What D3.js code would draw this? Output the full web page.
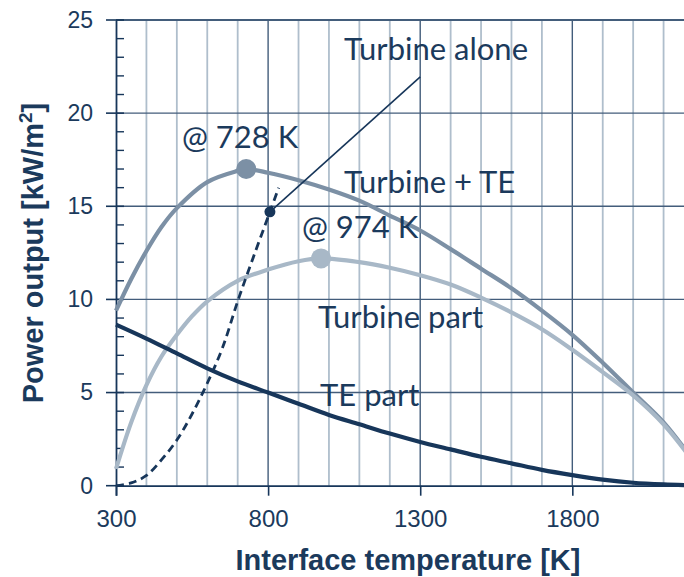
<!DOCTYPE html>
<html>
<head>
<meta charset="utf-8">
<script src="https://cdn.jsdelivr.net/npm/d3@7"></script>
<style>
  html, body { margin: 0; padding: 0; background: #ffffff; }
  svg { display: block; }
</style>
</head>
<body>
<svg id="chart" width="684" height="577"></svg>
<script>
// Power output vs. interface temperature
const temps = [300, 350, 400, 450, 500, 600, 700, 728, 800, 900, 1000, 1100, 1200, 1300, 1400, 1500, 1600, 1700, 1800, 1900, 2000, 2100, 2200];
const turbinePlusTE = [9.4, 11.1, 12.6, 13.9, 14.9, 16.3, 16.9, 17.0, 16.8, 16.4, 15.9, 15.3, 14.5, 13.7, 12.7, 11.65, 10.6, 9.4, 8.1, 6.6, 5.0, 3.4, 1.3];

const turbinePartT = [300, 350, 400, 450, 500, 550, 600, 700, 800, 900, 974, 1100, 1200, 1300, 1400, 1500, 1600, 1700, 1800, 1900, 2000, 2100, 2200];
const turbinePart = [0.9, 3.4, 5.4, 6.95, 8.1, 9.1, 9.9, 11.0, 11.6, 12.05, 12.2, 12.0, 11.7, 11.3, 10.8, 10.1, 9.3, 8.4, 7.3, 6.1, 4.85, 3.3, 1.25];

const tePartT = [300, 400, 500, 600, 700, 800, 900, 1000, 1100, 1200, 1300, 1400, 1500, 1600, 1700, 1800, 1900, 2000, 2100, 2200];
const tePart = [8.65, 7.9, 7.1, 6.3, 5.6, 5.0, 4.4, 3.8, 3.3, 2.8, 2.35, 1.95, 1.55, 1.2, 0.85, 0.57, 0.33, 0.16, 0.07, 0.02];

const turbineAloneT = [300, 350, 400, 450, 500, 550, 600, 650, 700, 750, 806, 835];
const turbineAlone = [0, 0.15, 0.55, 1.4, 2.45, 3.85, 5.5, 7.4, 9.9, 12.2, 14.7, 16.0];

// optimum points and the "Turbine alone" callout
const optimumT = [728, 974];
const optimumP = [17.0, 12.2];
const optimumLabels = ["@ 728 K", "@ 974 K"];
const aloneMarker = [806, 14.7];
const aloneLeaderEnd = [1300, 21.95];

const xTicks = [300, 800, 1300, 1800];
const yTicks = [0, 5, 10, 15, 20, 25];

const navy = "#17365a";
const textColor = "#1b3a5c";
const midBlue = "#7c90a5";
const lightBlue = "#a8b8c7";
const gridMajor = "#435d7b";
const gridMinor = "#afbecc";

const svg = d3.select("#chart");

const x = d3.scaleLinear().domain([300, 2200]).range([116, 694]);
const y = d3.scaleLinear().domain([0, 25]).range([485.7, 20]);

// grid
const grid = svg.append("g");
const minorX = d3.range(400, 2201, 100).filter(t => !xTicks.includes(t));
grid.selectAll(".vminor").data(minorX).enter().append("line")
  .attr("x1", d => x(d)).attr("x2", d => x(d))
  .attr("y1", y(25)).attr("y2", y(0))
  .attr("stroke", gridMinor).attr("stroke-width", 1.8);
grid.selectAll(".vmajor").data(xTicks.slice(1)).enter().append("line")
  .attr("x1", d => x(d)).attr("x2", d => x(d))
  .attr("y1", y(25)).attr("y2", y(0))
  .attr("stroke", gridMajor).attr("stroke-width", 1.4);
grid.selectAll(".hmajor").data(yTicks.slice(1)).enter().append("line")
  .attr("x1", x(300)).attr("x2", 684)
  .attr("y1", d => y(d)).attr("y2", d => y(d))
  .attr("stroke", gridMajor).attr("stroke-width", d => d === 25 ? 1.8 : 1.4);

// y axis: major ticks cross the axis, minor ticks sit inside
const yAxis = svg.append("g").attr("transform", `translate(${x(300)},0)`)
  .call(d3.axisLeft(y).tickValues(yTicks).tickSize(0).tickPadding(23).tickFormat(d3.format("d")));
yAxis.select(".domain").attr("stroke", navy).attr("stroke-width", 1.8);
yAxis.selectAll(".tick text")
  .attr("fill", textColor).attr("font-family", "Liberation Sans, Arial, sans-serif")
  .attr("font-size", 23);
svg.append("g").selectAll("line").data(yTicks).enter().append("line")
  .attr("x1", x(300) - 10).attr("x2", x(300) + 8)
  .attr("y1", d => y(d)).attr("y2", d => y(d))
  .attr("stroke", navy).attr("stroke-width", 1.6);
svg.append("g").selectAll("line").data(d3.range(0, 26).filter(v => v % 5 !== 0)).enter().append("line")
  .attr("x1", x(300)).attr("x2", x(300) + 8)
  .attr("y1", d => y(d)).attr("y2", d => y(d))
  .attr("stroke", navy).attr("stroke-width", 1.4);

// x axis
const xAxis = svg.append("g").attr("transform", `translate(0,${y(0)})`)
  .call(d3.axisBottom(x).tickValues(xTicks).tickSize(10).tickPadding(14).tickFormat(d3.format("d")));
xAxis.select(".domain").attr("stroke", navy).attr("stroke-width", 1.8);
xAxis.selectAll(".tick line").attr("stroke", navy).attr("stroke-width", 1.6);
xAxis.selectAll(".tick text")
  .attr("fill", textColor).attr("font-family", "Liberation Sans, Arial, sans-serif")
  .attr("font-size", 24);

// axis titles
svg.append("text")
  .attr("x", 408).attr("y", 570).attr("text-anchor", "middle")
  .attr("fill", textColor).attr("font-family", "Liberation Sans, Arial, sans-serif")
  .attr("font-weight", "bold").attr("font-size", 29)
  .text("Interface temperature [K]");
const yTitle = svg.append("text")
  .attr("transform", "translate(43,253) rotate(-90)").attr("text-anchor", "middle")
  .attr("fill", textColor).attr("font-family", "Liberation Sans, Arial, sans-serif")
  .attr("font-weight", "bold").attr("font-size", 29);
yTitle.append("tspan").text("Power output [kW/m");
yTitle.append("tspan").attr("font-size", 19).attr("dy", -11).text("2");
yTitle.append("tspan").attr("dy", 11).text("]");

// curves
const line = d3.line().x(d => x(d[0])).y(d => y(d[1])).curve(d3.curveCatmullRom.alpha(0.5));
const zip = (a, b) => a.map((t, i) => [t, b[i]]);

const plot = svg.append("g");
plot.append("path").datum(zip(temps, turbinePlusTE)).attr("d", line)
  .attr("fill", "none").attr("stroke", midBlue).attr("stroke-width", 4.2);
plot.append("path").datum(zip(turbinePartT, turbinePart)).attr("d", line)
  .attr("fill", "none").attr("stroke", lightBlue).attr("stroke-width", 4.2);
plot.append("path").datum(zip(tePartT, tePart)).attr("d", line)
  .attr("fill", "none").attr("stroke", navy).attr("stroke-width", 4.2);
plot.append("path").datum(zip(turbineAloneT, turbineAlone)).attr("d", line)
  .attr("fill", "none").attr("stroke", navy).attr("stroke-width", 2.8)
  .attr("stroke-dasharray", "8,5");

// leader line and marker for "Turbine alone"
plot.append("line")
  .attr("x1", x(aloneMarker[0])).attr("y1", y(aloneMarker[1]))
  .attr("x2", x(aloneLeaderEnd[0])).attr("y2", y(aloneLeaderEnd[1]))
  .attr("stroke", navy).attr("stroke-width", 1.6);
plot.append("circle")
  .attr("cx", x(aloneMarker[0])).attr("cy", y(aloneMarker[1])).attr("r", 5.5)
  .attr("fill", navy);

// optimum markers
plot.selectAll(".opt").data(zip(optimumT, optimumP)).enter().append("circle")
  .attr("cx", d => x(d[0])).attr("cy", d => y(d[1])).attr("r", 10)
  .attr("fill", (d, i) => i === 0 ? midBlue : lightBlue);

// annotations
const notes = [
  { t: "Turbine alone", x: 344, y: 60 },
  { t: optimumLabels[0], x: 182, y: 148 },
  { t: "Turbine + TE", x: 344, y: 193 },
  { t: optimumLabels[1], x: 302, y: 238 },
  { t: "Turbine part", x: 318, y: 328 },
  { t: "TE part", x: 320, y: 406 }
];
svg.append("g").selectAll("text").data(notes).enter().append("text")
  .attr("x", d => d.x).attr("y", d => d.y)
  .attr("fill", textColor).attr("font-family", "Lato, sans-serif")
  .attr("font-size", 31)
  .text(d => d.t);
</script>
</body>
</html>
